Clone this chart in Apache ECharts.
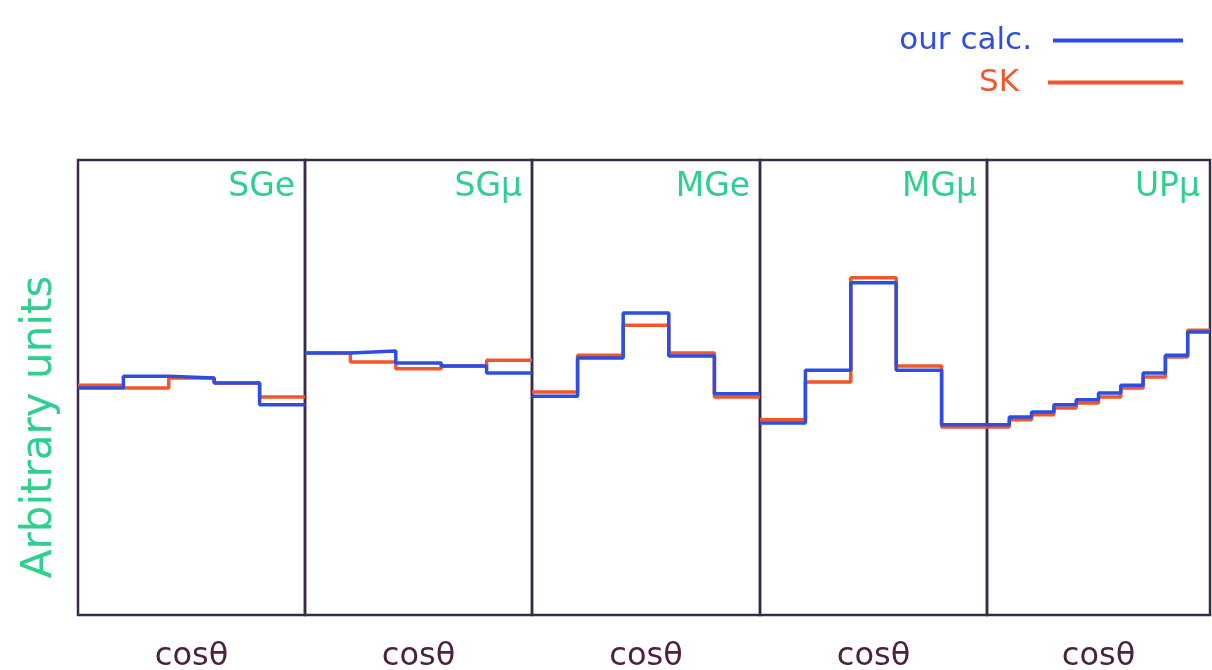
<!DOCTYPE html>
<html>
<head>
<meta charset="utf-8">
<script src="https://cdn.jsdelivr.net/npm/echarts@6/dist/echarts.min.js"></script>
<style>
  html, body { margin: 0; padding: 0; background: #ffffff; }
  #chart { width: 1212px; height: 670px; }
</style>
</head>
<body>
<div id="chart"></div>
<script>
// Zenith-angle distributions per event sample, in arbitrary units (0-100 scale)
const panelNames = ['SGe', 'SGμ', 'MGe', 'MGμ', 'UPμ'];
const xLabel = 'cosθ';
const yLabel = 'Arbitrary units';
const seriesNames = ['our calc.', 'SK'];

// binned values, one array per panel, for each calculation
const ourCalc = [
  [49.9, 52.5, 52.1, 51.0, 46.2],
  [57.6, 58.0, 55.4, 54.7, 53.2],
  [48.1, 56.5, 66.4, 56.9, 48.6],
  [42.2, 53.8, 73.0, 53.8, 41.8],
  [41.8, 43.5, 44.6, 46.2, 47.3, 48.8, 50.5, 53.2, 57.1, 62.2]
];
const skValues = [
  [50.5, 49.9, 52.1, 51.0, 47.9],
  [57.6, 55.6, 54.1, 54.7, 56.0],
  [49.0, 57.1, 63.7, 57.6, 47.9],
  [42.9, 51.2, 74.1, 54.7, 41.3],
  [41.3, 42.9, 44.0, 45.5, 46.6, 47.9, 49.9, 52.3, 56.7, 62.6]
];

const BLUE = '#2d4ee0';
const ORANGE = '#f2572a';
const FRAME = '#3a2c48';
const GREEN = '#2fd08f';
const INK = '#4a2140';

// panel edges in pixels
const edges = [78, 305, 532, 760, 987, 1210];
const TOP = 160, HEIGHT = 455;

// turn bin values into step points: one point per bin edge
function stepPoints(vals) {
  const pts = vals.map((v, i) => [i, v]);
  pts.push([vals.length, vals[vals.length - 1]]);
  return pts;
}

const grids = [], xAxes = [], yAxes = [], series = [], graphics = [];
panelNames.forEach((name, i) => {
  grids.push({
    left: edges[i], top: TOP, width: edges[i + 1] - edges[i], height: HEIGHT,
    outerBoundsMode: 'none', containLabel: false,
    show: true, borderColor: FRAME, borderWidth: 2.5, backgroundColor: 'transparent'
  });
  xAxes.push({
    gridIndex: i, type: 'value', min: 0, max: ourCalc[i].length,
    axisLine: { show: false }, axisTick: { show: false },
    axisLabel: { show: false }, splitLine: { show: false },
    name: xLabel, nameLocation: 'middle', nameGap: 26,
    nameTextStyle: { color: INK, fontSize: 32, fontFamily: 'DejaVu Sans' }
  });
  yAxes.push({
    gridIndex: i, type: 'value', min: 0, max: 100,
    axisLine: { show: false }, axisTick: { show: false },
    axisLabel: { show: false }, splitLine: { show: false }
  });
  series.push({
    name: seriesNames[1], type: 'line', step: 'end', xAxisIndex: i, yAxisIndex: i,
    data: stepPoints(skValues[i]), showSymbol: false, symbol: 'none',
    lineStyle: { color: ORANGE, width: 3.5 }, itemStyle: { color: ORANGE }
  });
  series.push({
    name: seriesNames[0], type: 'line', step: 'end', xAxisIndex: i, yAxisIndex: i,
    data: stepPoints(ourCalc[i]), showSymbol: false, symbol: 'none',
    lineStyle: { color: BLUE, width: 3.5 }, itemStyle: { color: BLUE }
  });
  graphics.push({
    type: 'text', right: 1212 - edges[i + 1] + 10, top: 171,
    style: { text: name, fill: GREEN, font: '33px "DejaVu Sans"' }
  });
});

graphics.push({
  type: 'text', x: 40, y: 427, rotation: Math.PI / 2,
  style: { text: yLabel, fill: GREEN, font: '42px "DejaVu Sans"', align: 'center', verticalAlign: 'middle' }
});

const chart = echarts.init(document.getElementById('chart'), null, { renderer: 'canvas' });
chart.setOption({
  animation: false,
  backgroundColor: '#ffffff',
  grid: grids,
  xAxis: xAxes,
  yAxis: yAxes,
  series: series,
  legend: [
    {
      right: 24, top: 20, align: 'right', icon: 'rect', itemWidth: 130, itemHeight: 4,
      data: [{ name: seriesNames[0], textStyle: { color: BLUE } }],
      textStyle: { fontSize: 31, fontFamily: 'DejaVu Sans', padding: [0, 16, 0, 0] }
    },
    {
      right: 24, top: 62, align: 'right', icon: 'rect', itemWidth: 135, itemHeight: 4,
      data: [{ name: seriesNames[1], textStyle: { color: ORANGE } }],
      textStyle: { fontSize: 31, fontFamily: 'DejaVu Sans', padding: [0, 24, 0, 0] }
    }
  ],
  graphic: graphics
});
</script>
</body>
</html>
